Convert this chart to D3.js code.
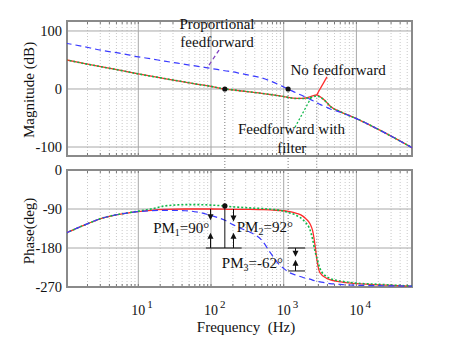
<!DOCTYPE html>
<html>
<head>
<meta charset="utf-8" />
<title>bode</title>
<script src="https://cdn.jsdelivr.net/npm/d3@7"></script>
<style>
  body { margin: 0; background: #fff; }
  text { font-family: "Liberation Serif", "Times New Roman", serif; fill: #111; }
</style>
</head>
<body>
<div id="vis"></div>
<script>
var w = 467;
var h = 341;

// frequency points (Hz)
var freq = [1, 1.7, 3.2, 6, 10, 15, 23, 44, 70, 100, 155, 200, 250, 340, 500, 650, 890, 1000, 1150, 1500,
            1850, 2000, 2300, 2500, 2700, 2850, 3150, 3900, 4300, 6000, 7000, 10000, 21000, 60000];

// magnitude (dB)
var magNoFF   = [50.5, 44.5, 38, 31.5, 26, 22, 18, 12, 7.5, 4.5, 0, -1.5, -3, -5, -7.5, -9.5, -12, -13, -14.5, -16,
                 -16, -15.5, -13.5, -12, -10.5, -10, -13, -23, -29, -39, -43, -51, -71, -102];
var magFilter = [50.5, 44.5, 38, 31.5, 26, 22, 18, 12, 7.5, 4.5, 0, -1.5, -3, -5, -7.5, -9.5, -12, -13, -14.5, -16.5,
                 -16.5, -16, -15, -14, -12.5, -12, -14, -23, -29, -39, -43, -51, -71, -102];
var magProp   = [79, 73.5, 66.5, 61, 55.5, 52, 48, 42.5, 38.5, 35.5, 31.5, 29.5, 27, 23.5, 19, 14, 6.5, 3.5, 0, -7,
                 -12, -14, -17.5, -20, -22.5, -24, -26.5, -31.5, -34, -40, -43, -51, -71, -102];

// phase (deg)
var phNoFF   = [-146, -129, -111, -101, -96, -93, -91, -90, -90, -90, -90.5, -91, -91, -91, -91.5, -92, -93.5, -94, -95.5, -100,
                -107, -112, -124, -140, -174, -205, -237, -250, -253, -258, -260, -262, -265, -268];
var phFilter = [-146, -129, -111, -101, -95, -90, -83, -80, -80, -81, -83, -85, -86, -87.5, -89, -90.5, -93, -95, -98, -105,
                -115, -121, -138, -160, -188, -202, -227, -246, -250, -256, -258, -261, -264, -268];
var phProp   = [-146, -129, -111, -101, -96, -94, -93, -94, -98, -105, -116, -126, -134, -143, -162, -190, -220, -227, -235, -243,
                -248, -250, -252, -254, -256, -257, -258, -261, -262, -264, -265, -266, -267, -268];

// crossover frequencies and margins
var crossFreq = [155, 1150];
var peakFreq = 2850;
var phaseAtCross = -83;
var pmLabels = ["1", "90", "2", "92", "3", "-62"];

var magTicks = [100, 0, -100];
var phaseTicks = [0, -90, -180, -270];
var decades = [10, 100, 1000, 10000];
var decadeExp = ["1", "2", "3", "4"];

var left = 67, right = 412;

var x = d3.scaleLog().domain([1.045, 58200]).range([left, right]);
var yM = d3.scaleLinear().domain([-115.5, 117.2]).range([156, 21]);
var yP = d3.scaleLinear().domain([-270, 0]).range([287, 170]);

var svg = d3.select("#vis").append("svg")
  .attr("width", w).attr("height", h);

svg.append("rect").attr("width", w).attr("height", h).attr("fill", "white");

var defs = svg.append("defs");
defs.append("clipPath").attr("id", "clipM").append("rect")
  .attr("x", left).attr("y", 21).attr("width", right - left).attr("height", 135);
defs.append("clipPath").attr("id", "clipP").append("rect")
  .attr("x", left).attr("y", 170).attr("width", right - left).attr("height", 117);

// minor log positions
var minor = [];
for (var e = 0; e <= 4; e++) {
  for (var k = 2; k <= 9; k++) {
    var f = k * Math.pow(10, e);
    if (f > 1.045 && f < 58200) minor.push(f);
  }
}

function panel(y, ticks, top, bottom) {
  var g = svg.append("g");
  g.selectAll(".minor").data(minor).enter().append("line")
    .attr("x1", function(d) { return x(d); }).attr("x2", function(d) { return x(d); })
    .attr("y1", top).attr("y2", bottom)
    .attr("stroke", "#c8c8c8").attr("stroke-width", 1).attr("stroke-dasharray", "1,2");
  g.selectAll(".major").data(decades).enter().append("line")
    .attr("x1", function(d) { return x(d); }).attr("x2", function(d) { return x(d); })
    .attr("y1", top).attr("y2", bottom)
    .attr("stroke", "#a8a8a8").attr("stroke-width", 1);
  g.selectAll(".hgrid").data(ticks).enter().append("line")
    .attr("x1", left).attr("x2", right)
    .attr("y1", function(d) { return y(d); }).attr("y2", function(d) { return y(d); })
    .attr("stroke", "#a8a8a8").attr("stroke-width", 1);
  // little inward ticks on top and bottom edges
  var all = minor.concat(decades);
  [top, bottom].forEach(function(edge, i) {
    g.selectAll(".t" + i).data(all).enter().append("line")
      .attr("x1", function(d) { return x(d); }).attr("x2", function(d) { return x(d); })
      .attr("y1", edge).attr("y2", edge + (i == 0 ? 3 : -3))
      .attr("stroke", "#777");
  });
  g.append("rect")
    .attr("x", left).attr("y", top).attr("width", right - left).attr("height", bottom - top)
    .attr("fill", "none").attr("stroke", "#8a8a8a").attr("stroke-width", 2);
  g.selectAll(".lab").data(ticks).enter().append("text")
    .attr("x", 62).attr("y", function(d) { return y(d); })
    .attr("dy", "0.35em").attr("text-anchor", "end")
    .style("font-size", "14.5px")
    .text(function(d) { return d; });
}

panel(yM, magTicks, 21, 156);
panel(yP, phaseTicks, 170, 287);

// x tick labels 10^n
decades.forEach(function(d, i) {
  var t = svg.append("text").attr("x", x(d) - 7).attr("y", 315).style("font-size", "14px");
  t.append("tspan").text("10");
  t.append("tspan").attr("dy", -7).attr("dx", 2).style("font-size", "11px").text(decadeExp[i]);
});

svg.append("text").attr("x", 246).attr("y", 332).attr("text-anchor", "middle")
  .style("font-size", "15px").attr("xml:space", "preserve").text("Frequency  (Hz)");
svg.append("text").attr("transform", "translate(29,90) rotate(-90)")
  .attr("text-anchor", "middle").attr("dy", "0.35em").style("font-size", "15px").text("Magnitude (dB)");
svg.append("text").attr("transform", "translate(29,231) rotate(-90)")
  .attr("text-anchor", "middle").attr("dy", "0.35em").style("font-size", "15px").text("Phase(deg)");

// crossover guide lines
svg.append("line").attr("x1", x(crossFreq[0])).attr("x2", x(crossFreq[0]))
  .attr("y1", yM(0)).attr("y2", yP(phaseAtCross))
  .attr("stroke", "#777").attr("stroke-dasharray", "1,2");
svg.append("line").attr("x1", x(crossFreq[1])).attr("x2", x(crossFreq[1]))
  .attr("y1", yM(0)).attr("y2", yP(-236))
  .attr("stroke", "#777").attr("stroke-dasharray", "1,2");
svg.append("line").attr("x1", x(peakFreq)).attr("x2", x(peakFreq))
  .attr("y1", yM(-10)).attr("y2", yP(-262))
  .attr("stroke", "#777").attr("stroke-dasharray", "1,2");

function curve(y, vals, clip, color, dash, width) {
  var line = d3.line()
    .x(function(d, i) { return x(freq[i]); })
    .y(function(d) { return y(d); })
    .curve(d3.curveMonotoneX);
  svg.append("path").datum(vals)
    .attr("clip-path", "url(#" + clip + ")")
    .attr("d", line)
    .attr("fill", "none")
    .attr("stroke", color)
    .attr("stroke-width", width)
    .attr("stroke-dasharray", dash);
}

curve(yM, magNoFF, "clipM", "#ff2a2a", null, 1.3);
curve(yM, magFilter, "clipM", "#10b84a", "2,2", 1.6);
curve(yM, magProp, "clipM", "#3a3aff", "6,4", 1.2);

curve(yP, phNoFF, "clipP", "#ff2a2a", null, 1.3);
curve(yP, phFilter, "clipP", "#10b84a", "2,2", 1.6);
curve(yP, phProp, "clipP", "#3a3aff", "6,4", 1.2);

// dots
svg.selectAll(".dot").data(crossFreq).enter().append("circle")
  .attr("cx", function(d) { return x(d); }).attr("cy", yM(0)).attr("r", 2.6).attr("fill", "#111");
svg.append("circle").attr("cx", x(crossFreq[0])).attr("cy", yP(phaseAtCross)).attr("r", 2.6).attr("fill", "#111");

// phase margin marks
function hline(f0, f1, v) {
  svg.append("line").attr("x1", x(f0)).attr("x2", x(f1)).attr("y1", yP(v)).attr("y2", yP(v))
    .attr("stroke", "#111").attr("stroke-width", 1);
}
function arrow(f, from, to) {
  var xa = Math.round(x(f)) + 0.5, y0 = yP(from), y1 = yP(to);
  var s = y1 > y0 ? 1 : -1;
  svg.append("line").attr("x1", xa).attr("x2", xa).attr("y1", y0).attr("y2", y1 - s * 5)
    .attr("stroke", "#111").attr("stroke-width", 1);
  svg.append("path")
    .attr("d", "M" + (xa - 3) + "," + (y1 - s * 6) + "L" + (xa + 3) + "," + (y1 - s * 6) + "L" + xa + "," + y1 + "Z")
    .attr("fill", "#111");
}

hline(85, 264, -180);
svg.append("line").attr("x1", x(crossFreq[0])).attr("x2", x(crossFreq[0]))
  .attr("y1", yP(phaseAtCross)).attr("y2", yP(-180)).attr("stroke", "#111");
arrow(97, -90, -116);
arrow(97, -180, -145);
arrow(199, -90, -119);
arrow(199, -180, -145);
hline(1150, 1970, -180);
hline(1150, 1970, -233);
arrow(1430, -180, -200);
arrow(1430, -233, -207);

function pmText(f, v, sub, val) {
  var t = svg.append("text").attr("x", x(f)).attr("y", yP(v)).style("font-size", "15px");
  t.append("tspan").text("PM");
  t.append("tspan").attr("dy", 3).style("font-size", "10px").text(sub);
  t.append("tspan").attr("dy", -3).text("=" + val + "\u00b0");
}
pmText(16, -145, pmLabels[0], pmLabels[1]);
pmText(226, -144, pmLabels[2], pmLabels[3]);
pmText(141, -225, pmLabels[4], pmLabels[5]);

// curve labels
function label(f, v, s) {
  svg.append("text").attr("x", x(f)).attr("y", yM(v)).attr("text-anchor", "middle")
    .style("font-size", "15px").text(s);
}
label(121, 103, "Proportional");
label(121, 72, "feedforward");
label(5600, 24, "No feedforward");
label(1280, -77.5, "Feedforward with");
label(1290, -110, "filter");

function pointer(f0, v0, f1, v1, color, dash) {
  svg.append("line").attr("x1", x(f0)).attr("y1", yM(v0)).attr("x2", x(f1)).attr("y2", yM(v1))
    .attr("stroke", color).attr("stroke-width", 1.3).attr("stroke-dasharray", dash);
}
pointer(129, 67, 88, 36, "#8040c0", "4,3");
pointer(3940, 21, 2850, -10, "#ff2a2a", null);
pointer(1430, -66, 2430, -13, "#10b84a", "2,2");
</script>
</body>
</html>
